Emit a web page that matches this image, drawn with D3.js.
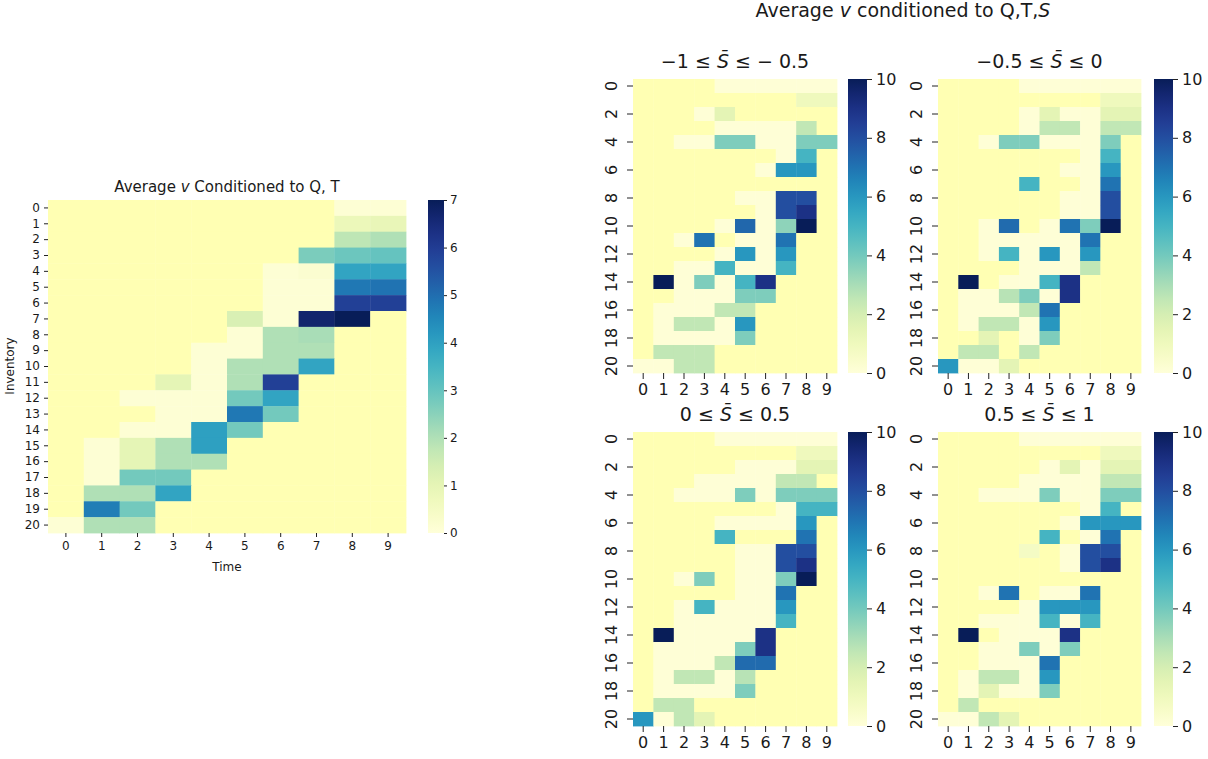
<!DOCTYPE html>
<html>
<head>
<meta charset="utf-8">
<script src="https://cdn.jsdelivr.net/npm/d3@7"></script>
<style>
  body { margin: 0; background: #fff; }
  svg text { font-family: "DejaVu Sans", sans-serif; fill: #1a1a1a; }
</style>
</head>
<body>
<svg id="chart" width="1208" height="759"></svg>
<script>
// n = empty cell (drawn in the plain yellow), p = tiny value (palest shade)
var n = null, p = 0.1;

var times = d3.range(10);      // Time 0..9
var inventory = d3.range(21);  // Inventory 0..20

// average v by Q (rows) and T (cols)
var avgQT = [
  [n,n,n,n,n,n,n,n,p,p],
  [n,n,n,n,n,n,n,n,0.8,0.9],
  [n,n,n,n,n,n,n,n,1.8,2.0],
  [n,n,n,n,n,n,n,2.7,2.9,3.0],
  [n,n,n,n,n,n,p,0.2,3.9,3.9],
  [n,n,n,n,n,n,p,p,4.8,4.9],
  [n,n,n,n,n,n,p,p,5.9,5.9],
  [n,n,n,n,n,1.3,p,6.7,7.0,n],
  [n,n,n,n,n,p,2.0,2.1,n,n],
  [n,n,n,n,p,p,2.0,2.0,n,n],
  [n,n,n,n,p,2.0,2.0,3.9,n,n],
  [n,n,n,1.0,p,2.0,5.9,n,n,n],
  [n,n,p,p,p,2.8,3.9,n,n,n],
  [n,n,n,p,p,4.8,2.8,n,n,n],
  [n,n,p,p,4.0,2.8,n,n,n,n],
  [n,p,1.0,2.0,4.0,n,n,n,n,n],
  [n,p,1.0,2.0,2.0,n,n,n,n,n],
  [n,p,2.8,2.8,n,n,n,n,n,n],
  [n,2.0,2.0,3.9,n,n,n,n,n,n],
  [n,4.7,2.8,n,n,n,n,n,n,n],
  [p,2.0,2.0,n,n,n,n,n,n,n]
];

// -1 <= S <= -0.5
var sBin1 = [
  [n,n,n,n,p,p,p,p,p,p],
  [n,n,n,n,n,n,n,n,1,1],
  [n,n,n,p,1.5,n,n,n,n,n],
  [n,n,n,n,p,p,p,p,2.5,n],
  [n,n,p,p,3.8,3.8,p,p,3.8,3.8],
  [n,n,n,n,n,n,n,p,5,n],
  [n,n,n,n,n,n,p,6,6,n],
  [n,n,n,n,n,n,n,n,n,n],
  [n,n,n,n,n,p,p,8,8,n],
  [n,n,n,n,n,n,p,8,9,n],
  [n,n,n,n,p,7.3,p,3.5,10,n],
  [n,n,p,7,n,p,p,7,n,n],
  [n,n,n,n,p,6,p,6,n,n],
  [n,n,p,p,5,p,p,5,n,n],
  [n,10,p,3.8,p,5,9,n,n,n],
  [n,n,p,p,p,3.8,3.8,n,n,n],
  [n,p,p,p,2.5,2.5,n,n,n,n],
  [n,p,2.5,2.5,p,6,n,n,n,n],
  [n,p,p,p,p,3.8,n,n,n,n],
  [n,2.5,2.5,2.5,n,n,n,n,n,n],
  [p,p,2.5,2.5,n,n,n,n,n,n]
];

// -0.5 <= S <= 0
var sBin2 = [
  [n,n,n,n,p,p,p,p,p,p],
  [n,n,n,n,n,n,n,n,1,1],
  [n,n,n,n,p,1.5,p,p,1.5,1.5],
  [n,n,n,n,p,2.5,2.5,p,2.5,2.5],
  [n,n,p,3.8,3.8,p,p,p,3.8,n],
  [n,n,n,n,n,n,n,p,5,n],
  [n,n,n,n,n,n,p,p,6,n],
  [n,n,n,n,5,n,n,p,7,n],
  [n,n,n,n,n,n,p,p,8,n],
  [n,n,n,n,n,n,p,p,8,n],
  [n,n,p,7.2,n,p,7,3.8,10,n],
  [n,n,p,p,p,p,p,7,n,n],
  [n,n,p,5,p,6,p,6,n,n],
  [n,n,n,n,p,p,p,2.5,n,n],
  [n,10,n,p,p,5,9,n,n,n],
  [n,p,p,2.7,3.8,p,9,n,n,n],
  [n,p,p,p,2.5,7,n,n,n,n],
  [n,p,2.5,2.5,p,6,n,n,n,n],
  [n,n,1.5,n,p,3.8,n,n,n,n],
  [n,2.5,2.5,n,2.5,n,n,n,n,n],
  [6,p,p,1.5,n,n,n,n,n,n]
];

// 0 <= S <= 0.5
var sBin3 = [
  [n,n,n,n,p,p,p,p,p,p],
  [n,n,n,n,n,n,n,n,1,1],
  [n,n,n,n,n,p,p,p,1.5,1.5],
  [n,n,n,p,p,p,p,2.5,2.5,n],
  [n,n,p,p,p,3.8,p,3.8,3.8,3.8],
  [n,n,n,n,n,n,n,p,5,5],
  [n,n,n,n,p,p,p,p,6,n],
  [n,n,n,n,5,n,n,n,7,n],
  [n,n,n,n,n,p,p,8,8,n],
  [n,n,n,n,n,p,p,8,9,n],
  [n,n,p,3.8,n,p,p,3.8,10,n],
  [n,n,n,n,n,p,p,7,n,n],
  [n,n,p,5,p,p,p,6,n,n],
  [n,n,p,p,p,p,p,5,n,n],
  [n,10,p,p,p,p,9,n,n,n],
  [n,p,p,p,p,3.8,9,n,n,n],
  [n,p,p,p,2.5,7.2,7.2,n,n,n],
  [n,p,2.5,2.5,p,2.7,n,n,n,n],
  [n,p,p,p,p,3.8,n,n,n,n],
  [n,2.5,2.5,n,n,n,n,n,n,n],
  [6,p,2.5,1.5,n,n,n,n,n,n]
];

// 0.5 <= S <= 1
var sBin4 = [
  [n,n,n,n,p,p,p,p,p,p],
  [n,n,n,n,n,n,n,n,1,1],
  [n,n,n,n,n,p,1.5,p,1.5,1.5],
  [n,n,n,n,p,p,p,p,2.5,2.5],
  [n,n,p,p,p,3.8,p,p,3.8,3.8],
  [n,n,n,n,n,n,n,p,5,n],
  [n,n,n,n,n,n,p,6,6,6],
  [n,n,n,n,n,5,n,p,7,n],
  [n,n,n,n,0.7,n,p,8,8,n],
  [n,n,n,n,n,n,p,8,9,n],
  [n,n,n,n,n,n,n,n,n,n],
  [n,n,p,7,n,p,p,7,n,n],
  [n,n,n,n,p,6,6,6,n,n],
  [n,n,p,p,p,5,p,5,n,n],
  [n,10,n,p,p,p,9,n,n,n],
  [n,n,p,p,3.8,p,3.8,n,n,n],
  [n,n,p,p,p,7,n,n,n,n],
  [n,p,2.5,2.5,p,6,n,n,n,n],
  [n,p,1.5,p,p,3.8,n,n,n,n],
  [n,2.5,n,n,n,n,n,n,n,n],
  [p,p,2.5,1.5,n,n,n,n,n,n]
];

// panel titles: [left bound, right bound]
var binLabels = [["−1", "− 0.5"], ["−0.5", "0"], ["0", "0.5"], ["0.5", "1"]];

var maskColor = "#ffffb3";

var svg = d3.select("#chart");
var defs = svg.append("defs");
var gradCount = 0;

function drawHeatmap(o) {
  var x = d3.scaleBand().domain(times).range([o.x0, o.x1]);
  var y = d3.scaleBand().domain(inventory).range([o.y0, o.y1]);
  var color = d3.scaleSequential(d3.interpolateYlGnBu).domain([0, o.vmax]);

  var cells = [];
  o.data.forEach(function(row, i) {
    row.forEach(function(v, j) { cells.push({ q: i, t: j, v: v }); });
  });

  var g = svg.append("g");
  g.selectAll("rect.cell").data(cells).enter().append("rect")
      .attr("class", "cell")
      .attr("x", function(d) { return x(d.t); })
      .attr("y", function(d) { return y(d.q); })
      .attr("width", x.bandwidth() + 0.4)
      .attr("height", y.bandwidth() + 0.4)
      .attr("fill", function(d) { return d.v == null ? maskColor : color(d.v); });

  // y axis
  var ya = svg.append("g")
      .attr("transform", "translate(" + o.x0 + ",0)")
      .call(d3.axisLeft(y).tickValues(o.yTicks).tickSize(o.tick).tickPadding(o.pad));
  ya.select(".domain").remove();
  ya.selectAll("line").attr("stroke", "#222");
  ya.selectAll("text").style("font-size", o.fs + "px");
  if (o.rotateY) {
    ya.selectAll("text")
        .attr("x", 0).attr("dy", 0)
        .attr("text-anchor", "middle")
        .attr("transform", "translate(" + (-o.tick - 10) + ",0) rotate(-90)");
  }

  // x axis
  var xa = svg.append("g")
      .attr("transform", "translate(0," + o.y1 + ")")
      .call(d3.axisBottom(x).tickSize(o.tick).tickPadding(o.pad));
  xa.select(".domain").remove();
  xa.selectAll("line").attr("stroke", "#222");
  xa.selectAll("text").style("font-size", o.fs + "px");

  // colour bar
  var id = "grad" + (gradCount++);
  var grad = defs.append("linearGradient").attr("id", id)
      .attr("x1", 0).attr("y1", 1).attr("x2", 0).attr("y2", 0);
  d3.range(0, 1.0001, 0.05).forEach(function(t) {
    grad.append("stop").attr("offset", t).attr("stop-color", d3.interpolateYlGnBu(t));
  });
  svg.append("rect")
      .attr("x", o.cbX).attr("y", o.y0)
      .attr("width", o.cbW).attr("height", o.y1 - o.y0)
      .attr("fill", "url(#" + id + ")");
  var cs = d3.scaleLinear().domain([0, o.vmax]).range([o.y1, o.y0]);
  var ca = svg.append("g")
      .attr("transform", "translate(" + (o.cbX + o.cbW) + ",0)")
      .call(d3.axisRight(cs).tickValues(o.cbTicks).tickFormat(d3.format("d"))
        .tickSize(o.tick - 1).tickPadding(o.pad - 1));
  ca.select(".domain").remove();
  ca.selectAll("line").attr("stroke", "#222");
  ca.selectAll("text").style("font-size", o.fs + "px");
}

// left chart
drawHeatmap({
  data: avgQT, vmax: 7,
  x0: 48, x1: 406, y0: 200, y1: 533,
  cbX: 428, cbW: 16, cbTicks: d3.range(8),
  yTicks: inventory, tick: 4, pad: 4, fs: 12, rotateY: false
});

var t0 = svg.append("text").attr("x", 227).attr("y", 192)
    .attr("text-anchor", "middle").style("font-size", "15px");
t0.append("tspan").text("Average ");
t0.append("tspan").style("font-style", "italic").text("v");
t0.append("tspan").text(" Conditioned to Q, T");

svg.append("text").attr("x", 227).attr("y", 571)
    .attr("text-anchor", "middle").style("font-size", "12px").text("Time");
svg.append("text")
    .attr("transform", "translate(14,366) rotate(-90)")
    .attr("text-anchor", "middle").style("font-size", "12px").text("Inventory");

// four panels conditioned on S
var panels = [
  { data: sBin1, x0: 633, x1: 837, y0: 79,  y1: 373, cbX: 848 },
  { data: sBin2, x0: 938, x1: 1141, y0: 79,  y1: 373, cbX: 1154 },
  { data: sBin3, x0: 633, x1: 837, y0: 432, y1: 726, cbX: 848 },
  { data: sBin4, x0: 938, x1: 1141, y0: 432, y1: 726, cbX: 1154 }
];

panels.forEach(function(pn, i) {
  drawHeatmap({
    data: pn.data, vmax: 10,
    x0: pn.x0, x1: pn.x1, y0: pn.y0, y1: pn.y1,
    cbX: pn.cbX, cbW: 19, cbTicks: [0, 2, 4, 6, 8, 10],
    yTicks: d3.range(0, 21, 2), tick: 6, pad: 5, fs: 16, rotateY: true
  });
  var t = svg.append("text")
      .attr("x", (pn.x0 + pn.x1) / 2).attr("y", pn.y0 - 11)
      .attr("text-anchor", "middle").style("font-size", "19px");
  t.append("tspan").text(binLabels[i][0] + " ≤ ");
  t.append("tspan").style("font-style", "italic").text("S\u0304");
  t.append("tspan").text(" ≤ " + binLabels[i][1]);
});

var st = svg.append("text").attr("x", 903).attr("y", 17)
    .attr("text-anchor", "middle").style("font-size", "19px");
st.append("tspan").text("Average ");
st.append("tspan").style("font-style", "italic").text("v");
st.append("tspan").text(" conditioned to Q,T,");
st.append("tspan").style("font-style", "italic").text("S");
</script>
</body>
</html>
